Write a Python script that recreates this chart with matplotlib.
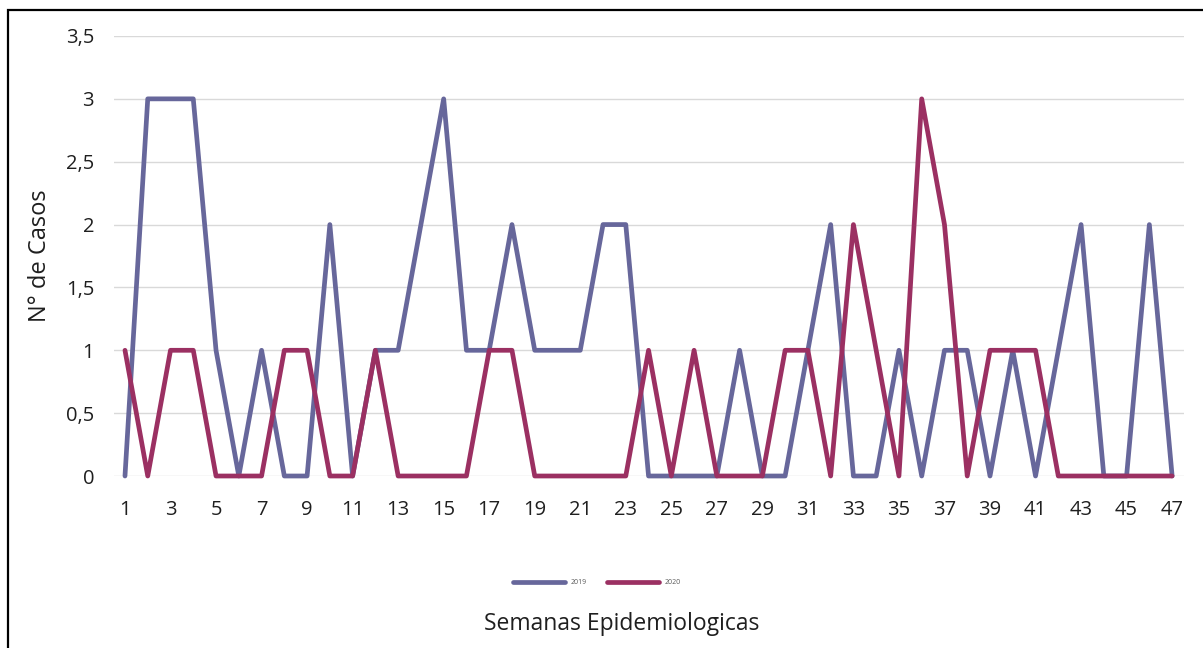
import numpy as np
import matplotlib.pyplot as plt
from matplotlib.patches import Rectangle

plt.rcParams['font.family'] = ['Open Sans', 'DejaVu Sans']

semanas = list(range(1, 48))
casos_2019 = [0, 3, 3, 3, 1, 0, 1, 0, 0, 2, 0, 1, 1, 2, 3, 1, 1, 2, 1, 1,
              1, 2, 2, 0, 0, 0, 0, 1, 0, 0, 1, 2, 0, 0, 1, 0, 1, 1, 0, 1,
              0, 1, 2, 0, 0, 2, 0]
casos_2020 = [1, 0, 1, 1, 0, 0, 0, 1, 1, 0, 0, 1, 0, 0, 0, 0, 1, 1, 0, 0,
              0, 0, 0, 1, 0, 1, 0, 0, 0, 1, 1, 0, 2, 1, 0, 3, 2, 0, 1, 1,
              1, 0, 0, 0, 0, 0, 0]
yticks = [0, 0.5, 1, 1.5, 2, 2.5, 3, 3.5]
ytick_labels = ['0', '0,5', '1', '1,5', '2', '2,5', '3', '3,5']

W, H = 1203, 648
fig = plt.figure(figsize=(W / 100, H / 100), dpi=100)
ax = fig.add_axes([113.6 / W, 172 / H, (1183.5 - 113.6) / W, 440 / H])

c19 = '#67679b'
c20 = '#9b3062'
ax.plot(semanas, casos_2019, color=c19, lw=3.4, solid_joinstyle='round',
        solid_capstyle='round', clip_on=False, label='2019', zorder=3)
ax.plot(semanas, casos_2020, color=c20, lw=3.4, solid_joinstyle='round',
        solid_capstyle='round', clip_on=False, label='2020', zorder=4)

ax.set_xlim(0.5, 47.5)
ax.set_ylim(0, 3.5)
ax.set_yticks(yticks)
ax.set_yticklabels(ytick_labels)
ax.set_xticks(semanas[::2])
ax.grid(axis='y', color='#d9d9d9', lw=1)
ax.set_axisbelow(True)
for s in ax.spines.values():
    s.set_visible(False)
ax.tick_params(length=0, labelsize=14.5, colors='#1f1f1f')
ax.tick_params(axis='y', pad=14)
ax.tick_params(axis='x', pad=17)

fig.text(40 / W, 1 - 256 / H, 'N° de Casos', rotation=90, ha='center',
         va='center', fontsize=17, color='#1f1f1f')
fig.text(622 / W, 1 - 624 / H, 'Semanas Epidemiologicas', ha='center',
         va='center', fontsize=16.5, color='#1f1f1f')

fig.legend(loc='center', bbox_to_anchor=(597 / W, 1 - 583 / H), ncol=2,
           fontsize=5, frameon=False, handlelength=7.5, columnspacing=3,
           labelcolor='#595959')

fig.patches.append(Rectangle((8 / W, -0.1), 1.2, 1 - 10 / H + 0.1,
                             transform=fig.transFigure, fill=False,
                             ec='black', lw=1.6))

fig.savefig('out.png', dpi=100)
